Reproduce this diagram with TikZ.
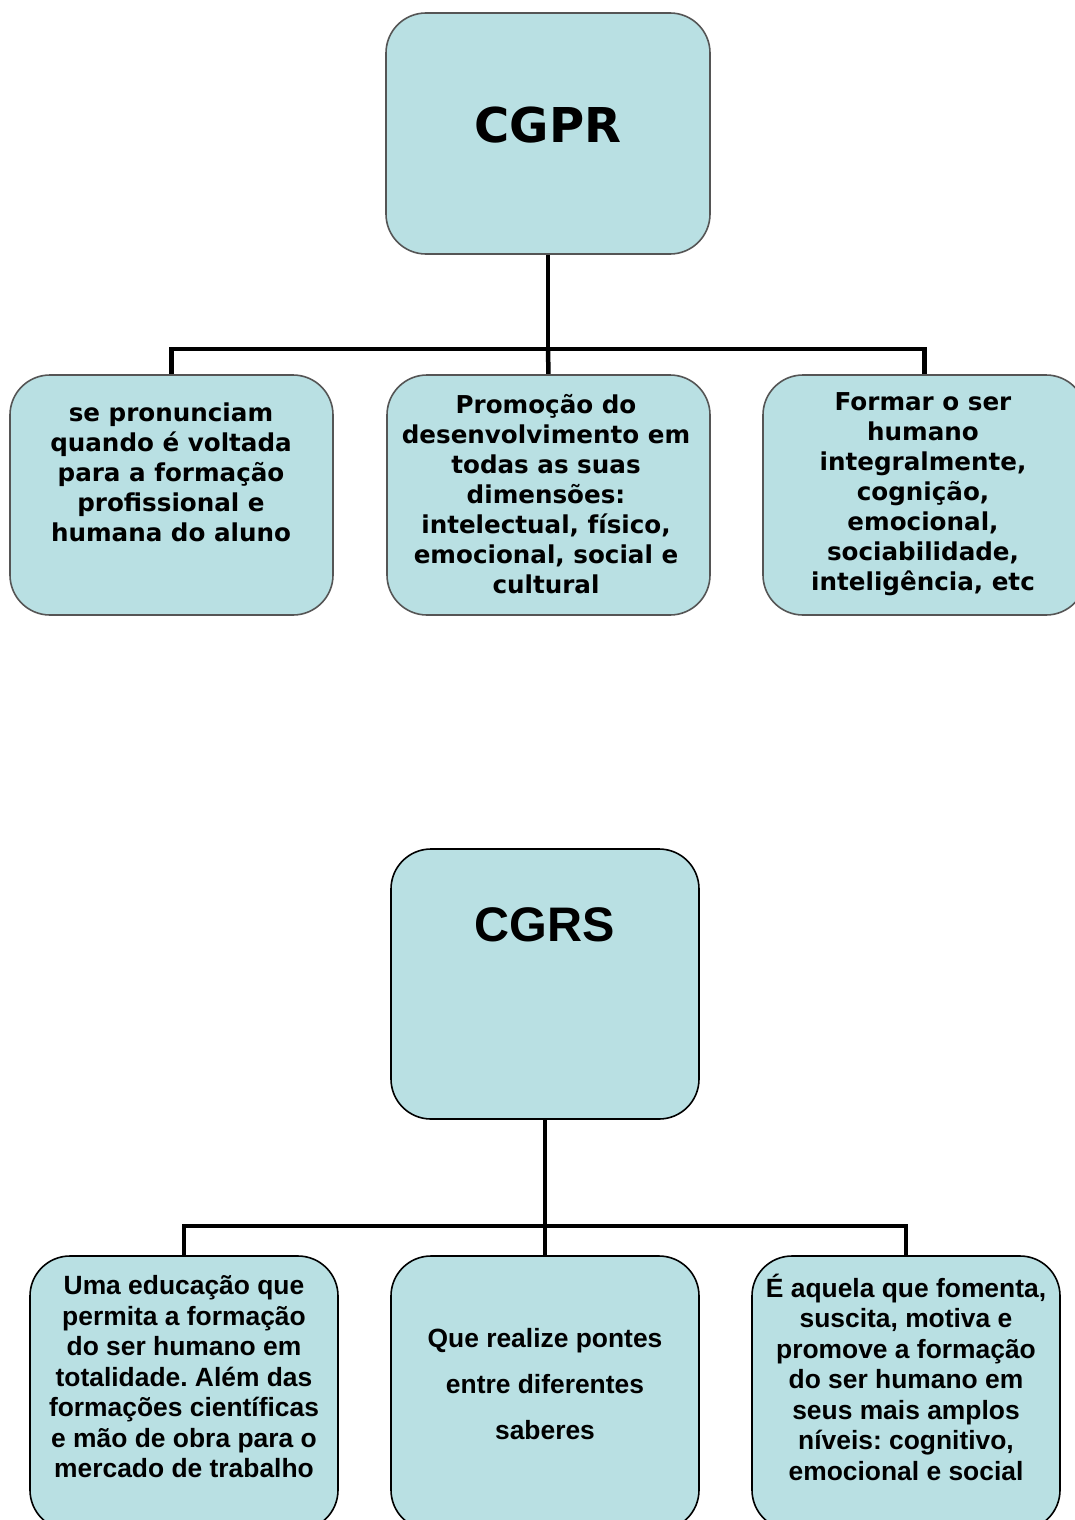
\documentclass[tikz,border=0pt]{standalone}
\usepackage{fontspec}
\newfontfamily\upperfont{DejaVu Sans}
\newfontfamily\lowerfont{Liberation Sans}
\definecolor{boxfill}{RGB}{185,224,227}
\definecolor{softedge}{RGB}{85,85,85}
\frenchspacing
\begin{document}
\begin{tikzpicture}[x=1pt,y=-1pt,
  card/.style={fill=boxfill,rounded corners=40pt,inner sep=0pt,line width=1.6pt},
  uppercard/.style={card,draw=softedge},
  lowercard/.style={card,draw=black},
  link/.style={draw=black,line width=4.5pt},
  uppertitle/.style={font={\upperfont\bfseries\fontsize{48}{52}\selectfont}},
  lowertitle/.style={font={\lowerfont\bfseries\fontsize{48.5}{52}\selectfont}},
  uppertext/.style={align=center,inner sep=0pt,font={\upperfont\bfseries\fontsize{24.6}{30}\selectfont}},
  lowertext/.style={align=center,inner sep=0pt,font={\lowerfont\bfseries\fontsize{26.4}{30.5}\selectfont}},
  widetext/.style={align=center,inner sep=0pt,font={\lowerfont\bfseries\fontsize{26.4}{46}\selectfont}}]
\useasboundingbox (0,0) rectangle (1075,1520);
\fill[white] (0,0) rectangle (1075,1520);
\clip (0,0) rectangle (1075,1520);

% ---- CGPR tree ----
\coordinate (hubA) at (548,349);
\draw[link] (548,254) -- (hubA);
\draw[link] (171.5,376) |- (hubA) -| (924.5,376);
\draw[link] (hubA) -- (548.5,376);

\node[uppercard,minimum width=324,minimum height=241] (cgpr) at (548,133.5) {};
\node[uppertitle] (cgprlabel) at (548,125) {CGPR};

\node[uppercard,minimum width=323,minimum height=240] (pa) at (171.5,495) {};
\node[uppercard,minimum width=323,minimum height=240] (pb) at (548.5,495) {};
\node[uppercard,minimum width=323,minimum height=240] (pc) at (924.5,495) {};

\node[uppertext] (pat) at (171,472) {se pronunciam\\quando é voltada\\para a formação\\profissional e\\humana do aluno};
\node[uppertext] (pbt) at (546,494) {Promoção do\\desenvolvimento em\\todas as suas\\dimensões:\\intelectual, físico,\\emocional, social e\\cultural};
\node[uppertext] (pct) at (923,494) {Formar o ser\\humano\\integralmente,\\cognição,\\emocional,\\sociabilidade,\\inteligência, etc};

% ---- CGRS tree ----
\coordinate (hubB) at (545,1226);
\draw[link] (545,1119) -- (hubB);
\draw[link] (184,1257) |- (hubB) -| (906,1257);
\draw[link] (hubB) -- (545,1257);

\node[lowercard,minimum width=308,minimum height=270] (cgrs) at (545,984) {};
\node[lowertitle] (cgrslabel) at (545,925) {CGRS};

\node[lowercard,minimum width=308,minimum height=274] (ra) at (184,1393) {};
\node[lowercard,minimum width=308,minimum height=274] (rb) at (545,1393) {};
\node[lowercard,minimum width=308,minimum height=274] (rc) at (906,1393) {};

\node[lowertext] (rat) at (184,1377) {Uma educação que\\permita a formação\\do ser humano em\\totalidade. Além das\\formações científicas\\e mão de obra para o\\mercado de trabalho};
\node[widetext] (rbt) at (545,1384) {Que realize pontes\\entre diferentes\\saberes};
\node[lowertext] (rct) at (906,1377) {É aquela que fomenta,\\suscita, motiva e\\promove a formação\\do ser humano em\\seus mais amplos\\níveis: cognitivo,\\emocional e social};
\end{tikzpicture}
\end{document}
